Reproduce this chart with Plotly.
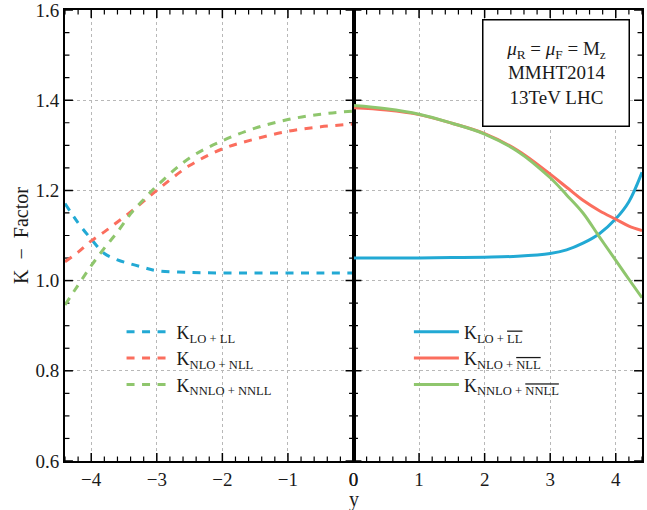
import numpy as np
import plotly.graph_objects as go

# ---------------- data ----------------
y_left = [-4.4, -4.2, -4.0, -3.8, -3.6, -3.4, -3.2, -3.0, -2.5, -2.0, -1.5, -1.0, -0.5, 0.0]
k_lo_ll = [1.171, 1.128, 1.092, 1.060, 1.046, 1.037, 1.029, 1.022, 1.018, 1.017, 1.017, 1.017, 1.017, 1.017]
k_nlo_nll = [1.042, 1.063, 1.088, 1.108, 1.130, 1.152, 1.176, 1.200, 1.255, 1.292, 1.314, 1.331, 1.341, 1.347]
k_nnlo_nnll = [0.946, 0.990, 1.033, 1.072, 1.108, 1.148, 1.180, 1.210, 1.272, 1.310, 1.338, 1.357, 1.369, 1.376]

y_right = [0.0, 0.5, 1.0, 1.5, 2.0, 2.5, 3.0, 3.25, 3.5, 3.75, 4.0, 4.2, 4.4]
k_lo_llbar = [1.050, 1.050, 1.050, 1.051, 1.052, 1.054, 1.060, 1.068, 1.083, 1.104, 1.137, 1.175, 1.240]
k_nlo_nllbar = [1.383, 1.378, 1.368, 1.349, 1.326, 1.289, 1.236, 1.207, 1.178, 1.155, 1.136, 1.121, 1.111]
k_nnlo_nnllbar = [1.388, 1.381, 1.369, 1.349, 1.325, 1.287, 1.228, 1.190, 1.150, 1.097, 1.045, 1.003, 0.962]

names_left = ["K<sub>LO + LL</sub>", "K<sub>NLO + NLL</sub>", "K<sub>NNLO + NNLL</sub>"]
OL = '<span style="text-decoration:overline">%s</span>'
names_right = ["K<sub>LO + " + OL % "LL" + "</sub>",
               "K<sub>NLO + " + OL % "NLL" + "</sub>",
               "K<sub>NNLO + " + OL % "NNLL" + "</sub>"]

x_range_left = [-4.4, -0.0001]
x_range_right = [0, 4.4]
y_range = [0.6, 1.6]
x_major_step, x_minor_step = 1, 0.2
y_major_step, y_minor_step = 0.2, 0.05

colors = ["#22a9d4", "#fb6e5e", "#8fc66d"]
FONT = "Liberation Serif"
TXT = "#1a1a1a"
GRID = "#b8b8b8"

fig = go.Figure()

# ---- inward tick marks on every side of both panels, drawn as line traces ----
PANEL_W, PANEL_H = 291.0, 452.0
MAJ_LEN, MIN_LEN = 8.0, 4.5
X_SPAN = 4.4
Y_SPAN = y_range[1] - y_range[0]


def tick_segments(xlo, xhi):
    out = {True: ([], []), False: ([], [])}
    xv = np.round(np.arange(np.ceil(xlo / x_minor_step - 1e-9) * x_minor_step, xhi + 1e-9, x_minor_step), 3)
    for v in xv:
        major = abs(v - round(v / x_major_step) * x_major_step) < 1e-6
        L = (MAJ_LEN if major else MIN_LEN) * Y_SPAN / PANEL_H
        xs, ys = out[major]
        xs += [v, v, None, v, v, None]
        ys += [y_range[0], y_range[0] + L, None, y_range[1], y_range[1] - L, None]
    yv = np.round(np.arange(y_range[0], y_range[1] + 1e-9, y_minor_step), 3)
    for v in yv:
        major = abs((v - y_range[0]) / y_major_step - round((v - y_range[0]) / y_major_step)) < 1e-6
        L = (MAJ_LEN if major else MIN_LEN) * X_SPAN / PANEL_W
        xs, ys = out[major]
        xs += [xlo, xlo + L, None, xhi, xhi - L, None]
        ys += [v, v, None, v, v, None]
    return out


for (xa, ya, lo, hi, lg) in [("x", "y", -4.4, 0.0, "legend"), ("x2", "y2", 0.0, 4.4, "legend2")]:
    segs = tick_segments(lo, hi)
    for major, (xs, ys) in segs.items():
        fig.add_trace(go.Scatter(x=xs, y=ys, mode="lines", showlegend=False, hoverinfo="skip",
                                 line=dict(color="black", width=1.5 if major else 1.2),
                                 cliponaxis=False, xaxis=xa, yaxis=ya, legend=lg))

for vals, name, c in zip([k_lo_ll, k_nlo_nll, k_nnlo_nnll], names_left, colors):
    fig.add_trace(go.Scatter(x=y_left, y=vals, mode="lines", name=name,
                             line=dict(color=c, width=3, dash="8px,7.5px", shape="spline"),
                             xaxis="x", yaxis="y", legend="legend"))
for vals, name, c in zip([k_lo_llbar, k_nlo_nllbar, k_nnlo_nnllbar], names_right, colors):
    fig.add_trace(go.Scatter(x=y_right, y=vals, mode="lines", name=name,
                             line=dict(color=c, width=3, shape="spline"),
                             xaxis="x2", yaxis="y2", legend="legend2"))

common_x = dict(tickmode="linear", tick0=0, dtick=x_major_step, ticks="",
                showline=True, linecolor="black", linewidth=2, mirror=True,
                showgrid=True, gridcolor=GRID, griddash="dot", gridwidth=1,
                zeroline=False, tickfont=dict(family=FONT, size=19, color=TXT),
                ticklabeloverflow="allow")
common_y = dict(range=y_range, tickmode="linear", tick0=0.6, dtick=y_major_step, ticks="",
                showline=True, linecolor="black", linewidth=2, mirror=True,
                showgrid=True, gridcolor=GRID, griddash="dot",
                gridwidth=1, zeroline=False, tickformat=".1f", ticklabeloverflow="allow",
                tickfont=dict(family=FONT, size=19, color=TXT))

fig.update_layout(
    width=647, height=510,
    margin=dict(l=65, r=0, t=9, b=49),
    paper_bgcolor="white", plot_bgcolor="white",
    font=dict(family=FONT, color=TXT, size=19),
    xaxis=dict(domain=[0, 0.5], range=x_range_left, anchor="y", **common_x),
    xaxis2=dict(domain=[0.5, 1], range=x_range_right, anchor="y2", **common_x),
    yaxis=dict(anchor="x", **common_y),
    yaxis2=dict(anchor="x2", showticklabels=False, **common_y),
    legend=dict(x=0.098, y=0.327, xanchor="left", yanchor="top", bgcolor="rgba(0,0,0,0)",
                font=dict(family=FONT, size=18, color=TXT), itemwidth=45),
    legend2=dict(x=0.596, y=0.327, xanchor="left", yanchor="top", bgcolor="rgba(0,0,0,0)",
                 font=dict(family=FONT, size=18, color=TXT), itemwidth=45),
    showlegend=True,
)

fig.add_annotation(text="<i>μ</i><sub>R</sub> = <i>μ</i><sub>F</sub> = M<sub>z</sub><br>MMHT2014<br>13TeV LHC",
                   xref="paper", yref="paper", x=0.851, y=0.8595, xanchor="center", yanchor="middle",
                   showarrow=False, font=dict(family=FONT, size=19, color=TXT),
                   width=141, height=101, borderpad=2, bordercolor="black", borderwidth=1.5,
                   bgcolor="white", align="center")
fig.add_annotation(text="y", xref="paper", yref="paper", x=0.5, y=0, yshift=-38,
                   xanchor="center", yanchor="middle", showarrow=False,
                   font=dict(family=FONT, size=20, color=TXT))
fig.add_annotation(text="K  −  Factor", xref="paper", yref="paper", x=-0.0773, y=0.5,
                   xanchor="center", yanchor="middle", textangle=-90, showarrow=False,
                   font=dict(family=FONT, size=20, color=TXT))

fig.write_html("out.html")
